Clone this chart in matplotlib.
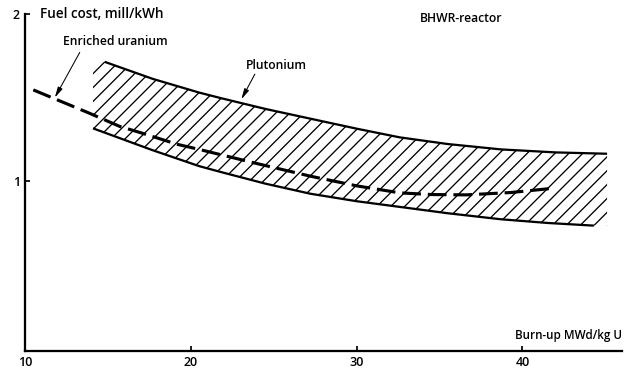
import matplotlib
matplotlib.use("Agg")
import matplotlib.pyplot as plt

# Burn-up (MWd/kg U) and fuel cost (mill/kWh)
pu_upper_x = [14.8, 17.7, 20.5, 21.8, 24.5, 27.2, 30.0, 32.6, 35.5, 38.7, 42.0, 45.1]
pu_upper_y = [1.714, 1.612, 1.530, 1.497, 1.432, 1.374, 1.314, 1.262, 1.222, 1.190, 1.172, 1.164]

pu_lower_x = [14.1, 17.7, 20.5, 21.8, 24.5, 27.2, 30.0, 32.6, 35.5, 38.7, 41.5, 44.3]
pu_lower_y = [1.316, 1.185, 1.090, 1.055, 0.985, 0.925, 0.880, 0.846, 0.808, 0.772, 0.750, 0.734]

enr_x = [10.5, 13.8, 15.7, 16.9, 19.2, 20.5, 24.0, 27.2, 30.0, 32.6, 34.5, 36.6, 39.3, 41.7]
enr_y = [1.546, 1.410, 1.328, 1.292, 1.220, 1.190, 1.105, 1.030, 0.972, 0.930, 0.920, 0.918, 0.932, 0.956]

x_ticks = [10, 20, 30, 40]
y_ticks = [1, 2]

plt.rcParams['font.family'] = ['Open Sans', 'DejaVu Sans']
plt.rcParams['hatch.linewidth'] = 0.75

fig = plt.figure(figsize=(5.008, 3.008), dpi=125)
ax = fig.add_axes([25 / 626, 1 - 351 / 376, 597 / 626, 337 / 376])
ax.set_xlim(10, 46.0)
ax.set_ylim(-0.016, 2.0)

# Hatched plutonium band
band_x = pu_upper_x + [pu_upper_x[-1]] + pu_lower_x[::-1] + [pu_lower_x[0]]
band_y = pu_upper_y + [pu_lower_y[-1]] + pu_lower_y[::-1] + [pu_upper_y[0]]
ax.fill(band_x, band_y, facecolor='none', edgecolor='black', hatch='///', linewidth=0)

ax.plot(pu_upper_x, pu_upper_y, color='black', lw=1.3, solid_capstyle='butt')
ax.plot(pu_lower_x, pu_lower_y, color='black', lw=1.3, solid_capstyle='butt')
ax.plot(enr_x, enr_y, color='black', lw=1.8, dashes=(6.0, 2.2))

# Labels with leaders
txt = dict(fontsize=7.0, fontweight='semibold', color='black')
arrow = dict(arrowstyle='-|>,head_length=0.5,head_width=0.12',
             color='black', lw=0.6, shrinkA=0, shrinkB=0)

ax.text(12.3, 1.838, 'Enriched uranium', ha='left', va='center', **txt)
ax.annotate('', xy=(11.8, 1.50), xytext=(13.3, 1.77), arrowprops=arrow)

ax.text(23.3, 1.694, 'Plutonium', ha='left', va='center', **txt)
ax.annotate('', xy=(23.05, 1.49), xytext=(23.86, 1.64), arrowprops=arrow)

ax.text(10.9, 2.0, 'Fuel cost, mill/kWh', ha='left', va='center',
        **dict(txt, fontsize=7.8))
ax.text(33.8, 1.975, 'BHWR-reactor', ha='left', va='center', **txt)
ax.text(46.0, 0.075, 'Burn-up MWd/kg U', ha='right', va='center',
        **dict(txt, fontsize=6.7))

# Axes styling
for side in ('top', 'right'):
    ax.spines[side].set_visible(False)
for side in ('left', 'bottom'):
    ax.spines[side].set_linewidth(1.3)
ax.set_xticks(x_ticks)
ax.set_yticks(y_ticks)
ax.tick_params(direction='in', length=3, width=1, pad=3)
for lab in ax.get_xticklabels() + ax.get_yticklabels():
    lab.set_fontsize(7.2)
    lab.set_fontweight('semibold')

fig.savefig('out.png', dpi=125)
